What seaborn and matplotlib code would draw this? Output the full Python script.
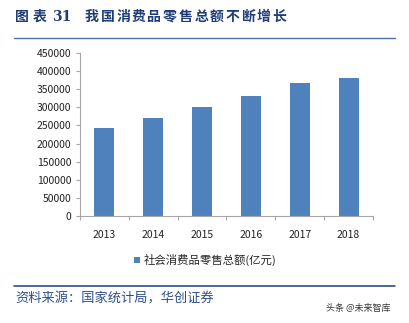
import matplotlib
matplotlib.use("Agg")
import matplotlib.pyplot as plt
import seaborn as sns
import pandas as pd
from matplotlib.lines import Line2D
from matplotlib.patches import Patch

years = ["2013", "2014", "2015", "2016", "2017", "2018"]
retail_sales = [242843, 271896, 300931, 332316, 366262, 380987]
series_name = "社会消费品零售总额(亿元)"
y_ticks = [0, 50000, 100000, 150000, 200000, 250000, 300000, 350000, 400000, 450000]
title_label = "图表"
title_number = "31"
title_text = "我国消费品零售总额不断增长"
source_text = "资料来源：国家统计局，华创证券"
watermark = "头条 @未来智库"

sns.set_theme(style="white")
plt.rcParams["font.family"] = ["Noto Sans CJK SC", "DejaVu Sans"]

W, H = 409, 323
fig = plt.figure(figsize=(W / 100, H / 100), dpi=100)
ax = fig.add_axes([80 / W, (H - 216) / H, (373 - 80) / W, (216 - 53) / H])

df = pd.DataFrame({"year": years, "value": retail_sales})
bar_color = "#4F81BD"
sns.barplot(data=df, x="year", y="value", color=bar_color, width=0.41,
            saturation=1, ax=ax, edgecolor="none")

ax.set_ylim(0, 450000)
ax.set_yticks(y_ticks)
ax.set_yticklabels([str(v) for v in y_ticks], fontsize=7.5, color="#222222")
ax.set_xticks(range(len(years)))
ax.set_xticklabels(years, fontsize=7.5, color="#222222")
ax.set_xlim(-0.5, len(years) - 0.5)
ax.set_xlabel("")
ax.set_ylabel("")

for side in ["top", "right"]:
    ax.spines[side].set_visible(False)
for side in ["left", "bottom"]:
    ax.spines[side].set_color("#A6A6A6")
    ax.spines[side].set_linewidth(0.8)

ax.tick_params(axis="y", which="major", left=True, length=3, width=0.8,
               color="#A6A6A6", pad=3)
ax.tick_params(axis="x", which="major", bottom=False, pad=4)
# category separators on the x axis
ax.set_xticks([i + 0.5 for i in range(-1, len(years))], minor=True)
ax.tick_params(axis="x", which="minor", bottom=True, length=3, width=0.8,
               color="#A6A6A6")

# legend
handle = Patch(facecolor=bar_color, edgecolor="none")
fig.legend([handle], [series_name], loc="center left",
           bbox_to_anchor=(134 / W, (H - 260) / H), frameon=False,
           fontsize=8.2, handlelength=0.5, handleheight=0.5, handletextpad=0.35,
           borderaxespad=0, borderpad=0)

navy = "#1F3D7A"
# header: spaced-out bold heading
ty = (H - 17) / H
for i, ch in enumerate(title_label):
    fig.text((15 + i * 17.5) / W, ty, ch, fontsize=10, fontweight="bold",
             color=navy, va="center", ha="left")
fig.text(52 / W, ty, title_number, fontsize=10, fontweight="bold", color=navy,
         va="center", ha="left", family=["DejaVu Serif"])
for i, ch in enumerate(title_text):
    fig.text((85 + i * 15.6) / W, ty, ch, fontsize=10, fontweight="bold",
             color=navy, va="center", ha="left")
fig.add_artist(Line2D([14 / W, 395 / W], [(H - 38) / H, (H - 38) / H],
                      color="#4F6FA8", linewidth=1.0))
# footer
fig.add_artist(Line2D([14 / W, 395 / W], [(H - 286) / H, (H - 286) / H],
                      color="#2E4F8C", linewidth=1.2))
fig.text(15 / W, (H - 299) / H, source_text,
         fontsize=9.5, style="italic", color="#2F4F8F", va="center", ha="left")
fig.text(391 / W, (H - 308) / H, watermark,
         fontsize=6.5, color="#333333", va="center", ha="right")

fig.savefig("out.png", dpi=100)
